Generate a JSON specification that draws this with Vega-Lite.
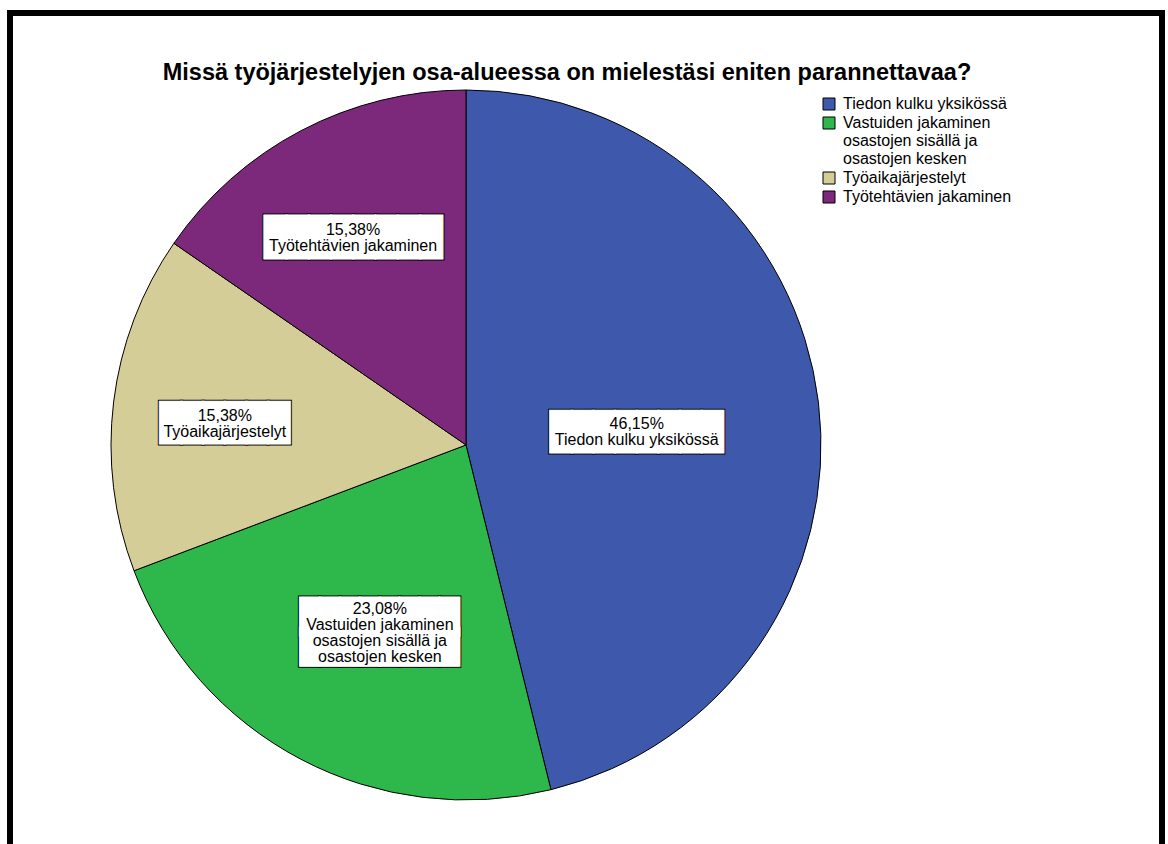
{
  "$schema": "https://vega.github.io/schema/vega-lite/v6.json",
  "autosize": "none",
  "width": 1152,
  "height": 864,
  "padding": {"left": 10, "top": 13, "right": 6, "bottom": 0},
  "background": "white",
  "config": {
    "view": {"stroke": null},
    "font": "Liberation Sans"
  },
  "title": {
    "text": "Missä työjärjestelyjen osa-alueessa on mielestäsi eniten parannettavaa?",
    "font": "Liberation Sans",
    "fontSize": 23.5,
    "fontWeight": "bold",
    "color": "black",
    "anchor": "middle",
    "offset": -74,
    "dx": -19
  },
  "data": {
    "values": [
      {"category": "Tiedon kulku yksikössä", "percent": 46.15, "label": "46,15%\nTiedon kulku yksikössä", "order": 1},
      {"category": "Vastuiden jakaminen osastojen sisällä ja osastojen kesken", "percent": 23.08, "label": "23,08%\nVastuiden jakaminen\nosastojen sisällä ja\nosastojen kesken", "order": 2},
      {"category": "Työaikajärjestelyt", "percent": 15.38, "label": "15,38%\nTyöaikajärjestelyt", "order": 3},
      {"category": "Työtehtävien jakaminen", "percent": 15.38, "label": "15,38%\nTyötehtävien jakaminen", "order": 4}
    ]
  },
  "layer": [
    {
      "mark": {"type": "arc", "outerRadius": 355, "x": 456, "stroke": "black", "strokeWidth": 1},
      "encoding": {
        "theta": {"field": "percent", "type": "quantitative", "stack": true},
        "order": {"field": "order", "type": "quantitative"},
        "color": {
          "field": "category",
          "type": "nominal",
          "scale": {
            "domain": ["Tiedon kulku yksikössä", "Vastuiden jakaminen osastojen sisällä ja osastojen kesken", "Työaikajärjestelyt", "Työtehtävien jakaminen"],
            "range": ["#3E58AC", "#2EB84B", "#D4CD98", "#7C297C"]
          },
          "legend": {
            "orient": "none",
            "legendX": 811,
            "legendY": 83,
            "title": null,
            "labelFont": "Liberation Sans",
            "labelFontSize": 16,
            "labelColor": "black",
            "labelLimit": 400,
            "symbolType": "square",
            "symbolSize": 144,
            "symbolStrokeColor": "black",
            "symbolStrokeWidth": 1,
            "symbolOpacity": 1,
            "rowPadding": 3,
            "labelOffset": 6,
            "labelExpr": "indexof(datum.label, 'Vastuiden') == 0 ? ['Vastuiden jakaminen', 'osastojen sisällä ja', 'osastojen kesken'] : datum.label",
            "encoding": {
              "labels": {
                "enter": {"lineHeight": {"value": 15.5}},
                "update": {"lineHeight": {"value": 15.5}}
              }
            }
          }
        }
      }
    },
    {
      "mark": {"type": "text", "x": 456, "dy": 8.7, "font": "DejaVu Sans Mono", "align": "center", "baseline": "middle", "lineHeight": 30.4, "stroke": "black", "strokeWidth": 3, "fill": "black"},
      "encoding": {
        "theta": {"field": "percent", "type": "quantitative", "stack": true},
        "order": {"field": "order", "type": "quantitative"},
        "radius": {"field": "percent", "type": "quantitative", "scale": {"type": "pow", "exponent": -4, "domain": [15.38, 46.15], "range": [243, 172]}},
        "text": {
          "condition": [
            {"test": "datum.order == 2", "value": ["████████", "████████"]},
            {"test": "datum.order == 3", "value": "██████"}
          ],
          "value": "████████"
        },
        "size": {
          "condition": [
            {"test": "datum.order == 2", "value": 33.2},
            {"test": "datum.order == 3", "value": 36},
            {"test": "datum.order == 4", "value": 37}
          ],
          "value": 36
        }
      }
    },
    {
      "mark": {"type": "text", "x": 456, "dy": 8.7, "font": "DejaVu Sans Mono", "align": "center", "baseline": "middle", "lineHeight": 30.4, "stroke": "white", "strokeWidth": 1, "fill": "white"},
      "encoding": {
        "theta": {"field": "percent", "type": "quantitative", "stack": true},
        "order": {"field": "order", "type": "quantitative"},
        "radius": {"field": "percent", "type": "quantitative", "scale": {"type": "pow", "exponent": -4, "domain": [15.38, 46.15], "range": [243, 172]}},
        "text": {
          "condition": [
            {"test": "datum.order == 2", "value": ["████████", "████████"]},
            {"test": "datum.order == 3", "value": "██████"}
          ],
          "value": "████████"
        },
        "size": {
          "condition": [
            {"test": "datum.order == 2", "value": 33.2},
            {"test": "datum.order == 3", "value": 36},
            {"test": "datum.order == 4", "value": 37}
          ],
          "value": 36
        }
      }
    },
    {
      "mark": {"type": "text", "x": 456, "font": "Liberation Sans", "fontSize": 16, "lineHeight": 16, "lineBreak": "\n", "align": "center", "baseline": "middle", "fill": "black"},
      "encoding": {
        "theta": {"field": "percent", "type": "quantitative", "stack": true},
        "order": {"field": "order", "type": "quantitative"},
        "radius": {"field": "percent", "type": "quantitative", "scale": {"type": "pow", "exponent": -4, "domain": [15.38, 46.15], "range": [243, 172]}},
        "text": {"field": "label", "type": "nominal"}
      }
    },
    {
      "data": {"values": [{}]},
      "mark": {"type": "rect", "filled": false, "stroke": "black", "strokeWidth": 6},
      "encoding": {}
    }
  ]
}
